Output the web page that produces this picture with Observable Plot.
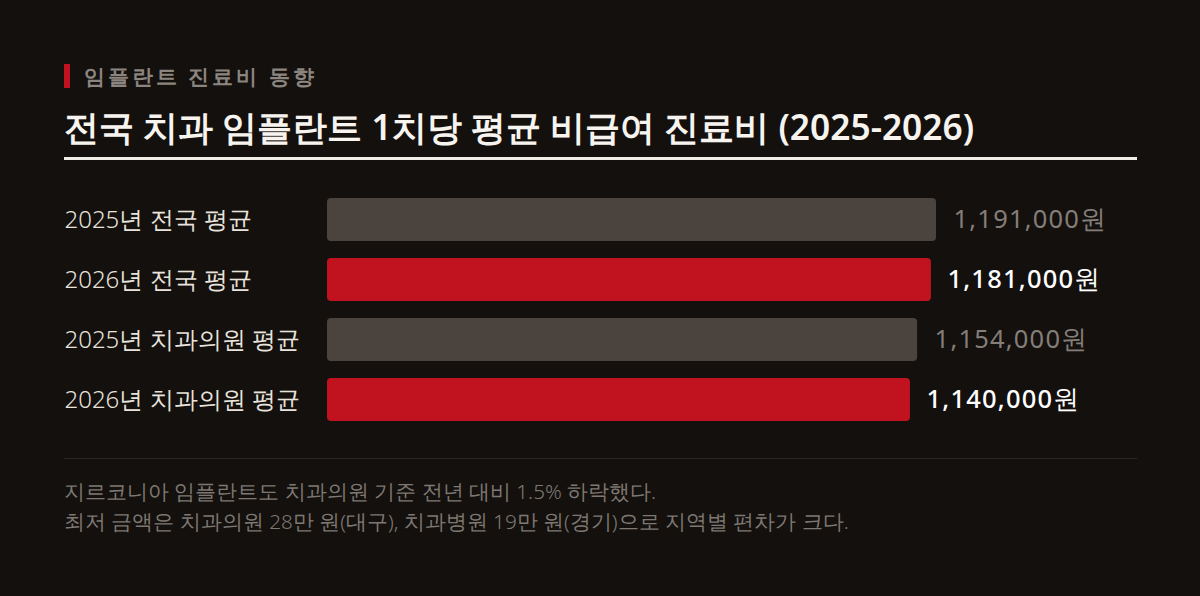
<!DOCTYPE html>
<html><head><meta charset="utf-8">
<script src="https://cdn.jsdelivr.net/npm/d3@7"></script>
<script src="https://cdn.jsdelivr.net/npm/@observablehq/plot@0.6"></script>
<style>
html,body{margin:0;padding:0;background:#13100e;}
body{width:1200px;height:596px;overflow:hidden;position:relative;font-family:"Noto Sans",sans-serif;}
#kicker{position:absolute;left:64px;top:62px;height:28px;display:flex;align-items:center;color:#8c857f;font-size:21px;font-weight:700;letter-spacing:3px;white-space:nowrap;}
#kicker .mark{display:inline-block;width:6px;height:24px;background:#c0131f;margin-right:14px;}
#title{position:absolute;left:64px;top:101px;color:#f7f4ef;font-size:35.3px;font-weight:600;line-height:50px;white-space:nowrap;}
#rule{position:absolute;left:64px;top:157px;width:1073px;height:3px;background:#f0ece6;}
#chart{position:absolute;left:0;top:170px;}
#sep{position:absolute;left:64px;top:458px;width:1073px;height:1px;background:#2b2724;}
#foot{position:absolute;left:64px;top:476px;color:#7f7872;font-size:20.7px;font-weight:300;line-height:30px;white-space:nowrap;}
</style></head>
<body>
<div id="kicker"><span class="mark"></span>임플란트 진료비 동향</div>
<div id="title">전국 치과 임플란트 1치당 평균 비급여 진료비 (2025-2026)</div>
<div id="rule"></div>
<div id="chart"></div>
<div id="sep"></div>
<div id="foot">지르코니아 임플란트도 치과의원 기준 전년 대비 1.5% 하락했다.<br>최저 금액은 치과의원 28만 원(대구), 치과병원 19만 원(경기)으로 지역별 편차가 크다.</div>
<script>
const categories = ["2025년 전국 평균","2026년 전국 평균","2025년 치과의원 평균","2026년 치과의원 평균"];
const years = ["2025","2026","2025","2026"];
const values = [1191000, 1181000, 1154000, 1140000];

const data = categories.map((c,i)=>({label:c, year:years[i], value:values[i]}));
const fmt = v => d3.format(",")(v) + "원";
const FF = '"Noto Sans", sans-serif';

const chart = Plot.plot({
  width: 1200,
  height: 280,
  marginLeft: 327,
  marginRight: 63,
  marginTop: 11,
  marginBottom: 12,
  style: {background: "transparent", fontFamily: FF},
  x: {domain: [0, 1584000], axis: null},
  y: {domain: categories, axis: null, paddingInner: 0.283, paddingOuter: 0.283},
  color: {domain: ["2025","2026"], range: ["#4a433e","#c0131f"]},
  marks: [
    Plot.barX(data, {x: "value", y: "label", fill: "year", rx: 4}),
    Plot.text(data, {y: "label", text: "label", frameAnchor: "left", textAnchor: "start", dx: -263, fill: "#e8e3dc", fontSize: 24, fontWeight: 300, fontFamily: FF}),
    Plot.text(data.filter(d=>d.year==="2025"), {x: "value", y: "label", text: d=>fmt(d.value), textAnchor: "start", dx: 17, fill: "#857e78", fontSize: 25.5, fontWeight: 400, fontFamily: FF}),
    Plot.text(data.filter(d=>d.year==="2026"), {x: "value", y: "label", text: d=>fmt(d.value), textAnchor: "start", dx: 16, fill: "#ffffff", fontSize: 25.5, fontWeight: 500, fontFamily: FF})
  ]
});
chart.querySelectorAll("g[aria-label=text] text").forEach(t=>{
  if (/원$/.test(t.textContent)) t.setAttribute("letter-spacing", "1.2");
});
document.getElementById("chart").append(chart);
</script>
</body></html>
